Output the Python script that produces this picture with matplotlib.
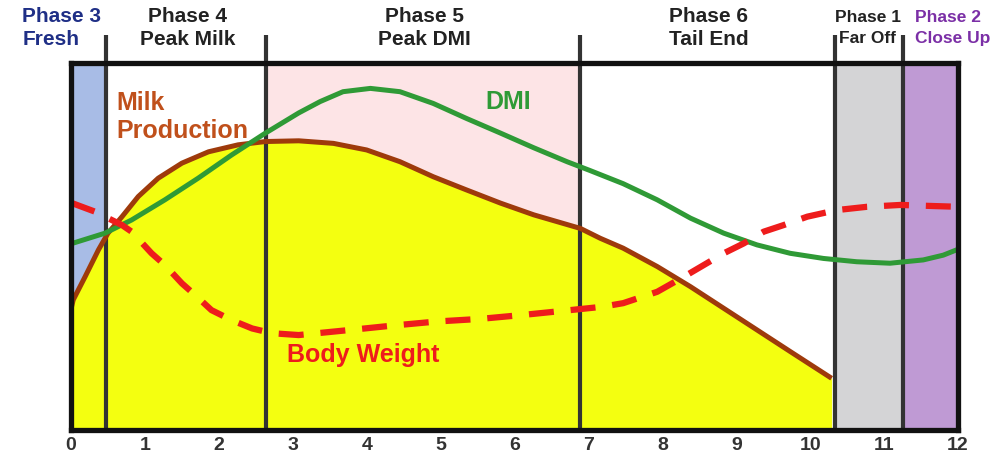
import matplotlib.pyplot as plt

# month boundaries of the phases
phase_edges = [0, 0.47, 2.64, 6.89, 10.34, 11.26, 12]
band_colors = ['#a8bce6', '#ffffff', '#fde4e6', '#ffffff', '#d4d4d6', '#bf9ad4']

phase_titles = ['Phase 3\nFresh', 'Phase 4\nPeak Milk', 'Phase 5\nPeak DMI',
                'Phase 6\nTail End', 'Phase 1\nFar Off', 'Phase 2\nClose Up']
phase_colors = ['#1f2f86', '#222222', '#222222', '#222222', '#222222', '#7b2fa6']

# milk production curve
milk_x = [0, 0.03, 0.19, 0.37, 0.50, 0.69, 0.91, 1.18, 1.50, 1.86, 2.26, 2.63, 3.08,
          3.55, 4.00, 4.45, 4.90, 5.35, 5.81, 6.26, 6.89, 7.16, 7.47, 7.93, 8.38,
          8.83, 9.28, 9.73, 10.29]
milk_y = [33.0, 35.5, 41.8, 49.1, 53.7, 58.2, 63.7, 68.7, 72.8, 75.9, 77.8, 78.7, 78.9,
          78.2, 76.4, 73.2, 69.1, 65.5, 61.9, 58.7, 55.0, 52.3, 49.6, 44.6, 39.1,
          33.2, 27.3, 21.4, 14.1]

# dry matter intake curve
dmi_x = [0, 0.46, 0.82, 1.27, 1.72, 2.17, 2.63, 3.08, 3.37, 3.68, 4.05, 4.45, 4.90,
         5.35, 5.81, 6.26, 6.71, 7.02, 7.47, 7.93, 8.38, 8.83, 9.28, 9.73, 10.18,
         10.63, 11.08, 11.53, 11.80, 12.0]
dmi_y = [50.8, 53.7, 57.3, 62.8, 68.7, 75.0, 81.0, 86.5, 89.6, 92.3, 93.2, 92.3, 89.1,
         85.0, 81.0, 77.0, 73.2, 70.8, 67.2, 62.8, 57.8, 53.7, 50.5, 48.2, 46.8,
         45.9, 45.5, 46.4, 47.7, 49.3]

# body weight curve
bw_x = [0, 0.32, 0.69, 0.82, 1.09, 1.27, 1.50, 1.68, 1.90, 2.17, 2.45, 2.72, 3.08,
        3.78, 4.36, 4.95, 5.53, 6.12, 6.75, 7.18, 7.47, 7.93, 8.29, 8.56, 8.83,
        9.10, 9.37, 9.64, 9.96, 10.36, 10.77, 11.22, 11.67, 12.0]
bw_y = [62.0, 59.6, 55.9, 54.1, 48.2, 45.0, 40.0, 36.8, 32.7, 30.0, 27.7, 26.4, 25.9,
        27.3, 28.5, 29.6, 30.3, 31.4, 32.7, 33.6, 34.6, 37.7, 41.8, 45.0, 48.2,
        50.9, 54.1, 55.9, 58.2, 60.0, 60.9, 61.4, 61.1, 60.9]

months = list(range(13))

fig = plt.figure(figsize=(9.96, 4.66), dpi=100)
ax = fig.add_axes([0.0713, 0.0773, 0.8906, 0.7865])
ax.set_xlim(0, 12)
ax.set_ylim(0, 100)

for i in range(len(band_colors)):
    ax.axvspan(phase_edges[i], phase_edges[i + 1], color=band_colors[i], zorder=0, lw=0)

ax.fill_between(milk_x, milk_y, 0, color='#f4ff10', zorder=1, lw=0)

# phase separators reach up between the titles
for x in phase_edges[1:-1]:
    ax.plot([x, x], [0, 107.8], color='#333333', lw=3, zorder=2, clip_on=False,
            solid_capstyle='butt')

ax.plot(milk_x, milk_y, color='#9e3a0b', lw=3.6, zorder=3, solid_capstyle='butt')
ax.plot(dmi_x, dmi_y, color='#2f9a36', lw=3.6, zorder=4)
ax.plot(bw_x, bw_y, color='#ee1c1c', lw=4.5, dashes=(4, 2.7), zorder=5)

title_x = [-0.66, 1.58, 4.78, 8.63, 10.78, 11.42]
title_ha = ['left', 'center', 'center', 'center', 'center', 'left']
title_size = [15, 15, 15, 15, 12.5, 12.5]
for i, t in enumerate(phase_titles):
    ax.text(title_x[i], 109.7, t, ha=title_ha[i], va='center', multialignment=title_ha[i],
            fontsize=title_size[i], fontweight='bold', color=phase_colors[i],
            family='Liberation Sans', linespacing=1.25 * 15 / title_size[i], clip_on=False)

ax.text(0.62, 85.3, 'Milk\nProduction', ha='left', va='center', fontsize=18,
        fontweight='bold', color='#c0501b', family='Liberation Sans', linespacing=1.2, zorder=6)
ax.text(5.91, 89.5, 'DMI', ha='center', va='center', fontsize=18,
        fontweight='bold', color='#2f9a36', family='Liberation Sans', zorder=6)
ax.text(3.95, 20.5, 'Body Weight', ha='center', va='center', fontsize=18,
        fontweight='bold', color='#ee1c1c', family='Liberation Sans', zorder=6)

ax.set_xticks(months)
ax.set_xticklabels([str(m) for m in months], fontsize=14, fontweight='bold',
                   color='#333333', family='Liberation Sans')
ax.tick_params(axis='x', length=0, pad=5)
ax.set_yticks([])
for s in ax.spines.values():
    s.set_linewidth(3.8)
    s.set_color('#111111')
    s.set_zorder(7)

fig.savefig('out.png', dpi=100)
